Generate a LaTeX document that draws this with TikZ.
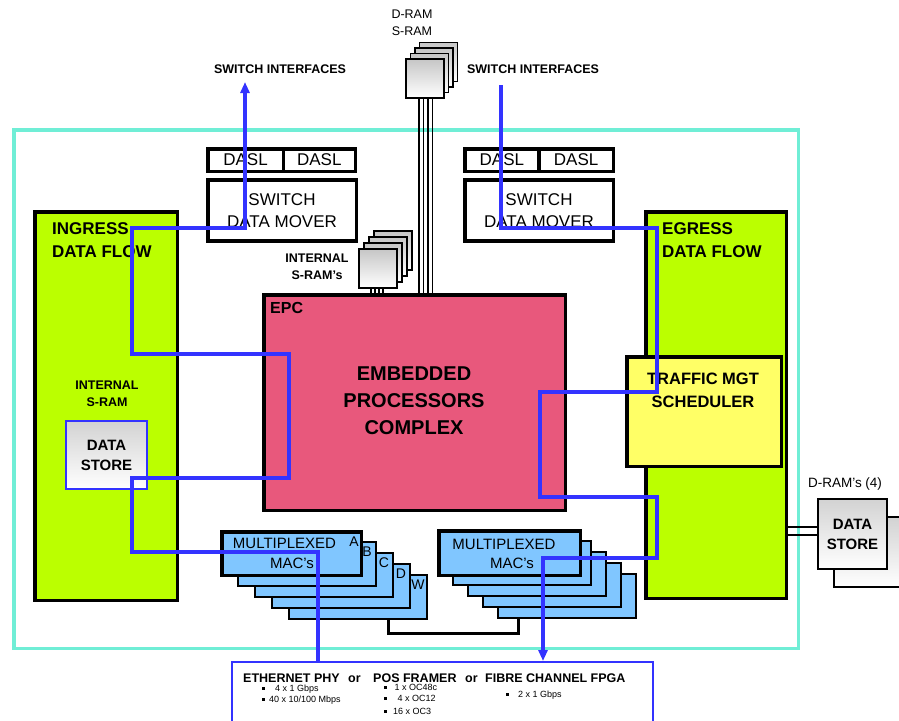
\documentclass[tikz,border=0pt]{standalone}
\usepackage{fontspec}
\setmainfont{Liberation Sans}
\usetikzlibrary{arrows.meta,positioning}
\definecolor{framecyan}{RGB}{112,238,214}
\definecolor{flowlime}{RGB}{187,255,0}
\definecolor{epcred}{RGB}{232,88,124}
\definecolor{mgtyellow}{RGB}{255,255,102}
\definecolor{macblue}{RGB}{128,198,255}
\definecolor{flowblue}{RGB}{51,51,255}
\begin{document}
\begin{tikzpicture}[
  x=1pt, y=-1pt,
  blk/.style={draw, line width=3.5pt, anchor=north west, inner sep=0pt, align=center},
  dasl/.style={blk, minimum height=22.5pt, font=\fontsize{17}{20}\selectfont},
  mover/.style={blk, minimum width=148.5pt, minimum height=61pt, font=\fontsize{17}{22}\selectfont},
  chip/.style={draw, line width=1.5pt, top color=gray!45, bottom color=white, minimum width=38pt, minimum height=39pt, anchor=north west},
  mac/.style={draw, line width=2pt, fill=macblue, anchor=north west, minimum width=138pt, minimum height=44pt},
  mactxt/.style={font=\fontsize{15}{17}\selectfont, inner sep=0pt},
  store/.style={draw, line width=2pt, top color=gray!35, bottom color=white, anchor=north west, minimum width=69pt, minimum height=70pt, align=center, font=\bfseries\fontsize{15}{20}\selectfont},
  tag/.style={font=\bfseries\fontsize{12.5}{16.5}\selectfont, align=center, inner sep=0pt},
  head/.style={font=\bfseries\fontsize{17}{23}\selectfont, align=left, inner sep=0pt, anchor=north west},
  phyhead/.style={font=\bfseries\fontsize{12.5}{14}\selectfont, anchor=base west, inner sep=0pt},
  bul/.style={font=\fontsize{9}{10}\selectfont, anchor=base west, inner sep=0pt},
  flow/.style={draw=flowblue, line width=3.5pt},
  tipx/.style={-{Triangle[length=11pt,width=9pt]}}
]
\clip (0,0) rectangle (899,720);
\fill[white] (0,0) rectangle (899,720);

% chip outline
\node[draw=framecyan, line width=3.5pt, anchor=north west, minimum width=784.5pt, minimum height=518.5pt] (npu) at (12,128) {};

% ingress side
\node[blk, fill=flowlime, minimum width=142.5pt, minimum height=388.5pt] (ingress) at (33,210) {};
\node[head] (ingresstxt) at (52,222) {INGRESS\\DATA FLOW};
\node[tag] (isramtxt) at (107,394) {INTERNAL\\S-RAM};
\node[store, draw=flowblue, minimum width=81pt, minimum height=68pt] (storeL) at (65,420) {DATA\\STORE};

% egress side
\node[blk, fill=flowlime, minimum width=140.5pt, minimum height=386.5pt] (egress) at (644,210) {};
\node[head] (egresstxt) at (662,222) {EGRESS\\DATA FLOW};
\node[blk, fill=mgtyellow, minimum width=154.5pt, minimum height=109.5pt] (mgt) at (625,355) {};
\node[tag, font=\bfseries\fontsize{16.5}{23}\selectfont] (mgttxt) at (703,390) {TRAFFIC MGT\\SCHEDULER};

% switch side
\node[dasl, minimum width=75.5pt] (daslL1) at (206,147) {DASL};
\node[dasl, minimum width=72pt] (daslL2) at (281.5,147) {DASL};
\node[mover] (moverL) at (206,178) {SWITCH\\DATA MOVER};
\node[dasl, minimum width=74.25pt] (daslR1) at (463,147) {DASL};
\node[dasl, minimum width=74.25pt] (daslR2) at (537.25,147) {DASL};
\node[mover] (moverR) at (463,178) {SWITCH\\DATA MOVER};
\node[tag] (swifL) at (280,69) {SWITCH INTERFACES};
\node[tag] (swifR) at (533,69) {SWITCH INTERFACES};

% processors
\node[blk, fill=epcred, minimum width=301.5pt, minimum height=215.5pt] (epc) at (262,293) {};
\node[font=\bfseries\fontsize{16}{18}\selectfont, anchor=north west, inner sep=0pt] (epctag) at (270,302) {EPC};
\node[tag, font=\bfseries\fontsize{20}{27}\selectfont] (epctxt) at (414,401) {EMBEDDED\\PROCESSORS\\COMPLEX};

% external memory
\foreach \i in {3,2,1,0}
  \node[chip] (dram\i) at (405+4.5*\i, 58-5.5*\i) {};
\foreach \x in {419,423.5,428,432.5}
  \draw[line width=1.3pt] (dram0.south -| \x,0) -- (epc.north -| \x,0);
\node[font=\fontsize{12.5}{17}\selectfont, align=center] (ramtxt) at (412,23) {D-RAM\\S-RAM};

% internal memory
\foreach \i in {3,2,1,0}
  \node[chip] (isram\i) at (358+5*\i, 248-6*\i) {};
\foreach \x in {371,375,379,383}
  \draw[line width=1.2pt] (isram0.south -| \x,0) -- (epc.north -| \x,0);
\node[tag] (isramlbl) at (317,267) {INTERNAL\\S-RAM's};

% MAC stacks
\foreach \i/\l in {4/W,3/D,2/C,1/B} {
  \node[mac] (macL\i) at (220+17*\i, 530+11*\i) {};
  \node[font=\fontsize{14}{16}\selectfont, inner sep=0pt] (macL\i tag) at ([xshift=-10pt,yshift=-11pt]macL\i.north east) {\l};
}
\node[mac, line width=3.5pt, minimum width=139.5pt, minimum height=43.5pt] (macL0) at (220,530) {};
\node[font=\fontsize{14}{16}\selectfont, inner sep=0pt] (macL0tag) at ([xshift=-9pt,yshift=-12pt]macL0.north east) {A};
\node[mactxt] (macLtxt1) at (284.5,543) {MULTIPLEXED};
\node[mactxt] (macLtxt2) at (292,563) {MAC's};

\foreach \i in {4,3,2,1}
  \node[mac] (macR\i) at (437+15*\i, 529+11*\i) {};
\node[mac, line width=3.5pt, minimum width=141.5pt, minimum height=44.5pt] (macR0) at (437,529) {};
\node[mactxt] (macRtxt1) at (504,544) {MULTIPLEXED};
\node[mactxt] (macRtxt2) at (512,563) {MAC's};
\draw[line width=3pt] (macL4.south -| 388,0) -- ++(0,13) -| (macR4.south -| 518,0);

% egress data store
\node[store] (dstore2) at (833,516) {};
\node[store] (dstore) at (817,498) {DATA\\STORE};
\node[font=\fontsize{13.5}{15}\selectfont] (dstoretxt) at (845,484) {D-RAM's (4)};
\draw[line width=1.2pt] (egress.east |- 0,527) -- (dstore.west |- 0,527);
\draw[line width=1.2pt] (egress.east |- 0,535) -- (dstore.west |- 0,535);

% line interfaces
\node[draw=flowblue, line width=2pt, anchor=north west, minimum width=421pt, minimum height=80pt] (phy) at (231,661) {};
\node[phyhead] (eth) at (243,682) {ETHERNET PHY};
\node[phyhead] (or1) at (348,682) {or};
\node[phyhead] (pos) at (373,682) {POS FRAMER};
\node[phyhead] (or2) at (465,682) {or};
\node[phyhead] (fc) at (485,682) {FIBRE CHANNEL FPGA};
\node[bul] (eth1) at (262,691.5) {\rule[1.6pt]{2.8pt}{2.8pt}\hspace{10pt}4 x 1 Gbps};
\node[bul] (eth2) at (262,702.5) {\rule[1.6pt]{2.8pt}{2.8pt}\hspace{4pt}40 x 10/100 Mbps};
\node[bul] (pos1) at (384,690.5) {\rule[1.6pt]{2.8pt}{2.8pt}\hspace{7.5pt}1 x OC48c};
\node[bul] (pos2) at (384,701.5) {\rule[1.6pt]{2.8pt}{2.8pt}\hspace{10.5pt}4 x OC12};
\node[bul] (pos3) at (384,714.5) {\rule[1.6pt]{2.8pt}{2.8pt}\hspace{6pt}16 x OC3};
\node[bul] (fc1) at (506,697.5) {\rule[1.6pt]{2.8pt}{2.8pt}\hspace{9pt}2 x 1 Gbps};

% data paths
\coordinate (swout) at (245,82);
\coordinate (swin) at (501,85);
\draw[flow, tipx] (phy.north -| 318,0) -- (318,552) -- (132,552) -- (132,478) -- (289,478)
  -- (289,354) -- (132,354) -- (132,228) -- (245,228) -- (swout);
\draw[flow, tipx] (swin) -- (501,228) -- (657,228) -- (657,392) -- (540,392) -- (540,497)
  -- (657,497) -- (657,558) -- (543,558) -- (phy.north -| 543,0);
\end{tikzpicture}
\end{document}
